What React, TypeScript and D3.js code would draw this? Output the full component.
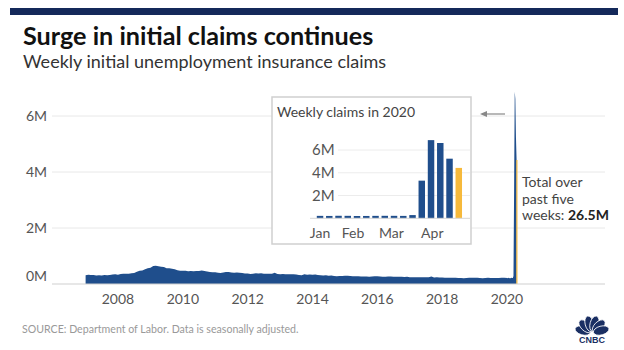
import * as d3 from 'd3';

// weekly initial claims, monthly averages in thousands, Jan 2007 .. Dec 2019
const monthlyStart = '2007-01-01';
const monthlyClaims = [
  315, 330, 318, 325, 305, 315, 305, 320, 315, 325, 340, 345,
  330, 355, 365, 365, 370, 385, 395, 440, 470, 480, 525, 560,
  580, 640, 655, 630, 620, 605, 560, 565, 545, 525, 490, 470,
  470, 475, 455, 460, 455, 465, 460, 480, 460, 450, 430, 420,
  420, 405, 395, 415, 425, 425, 410, 405, 410, 405, 395, 375,
  375, 360, 365, 380, 375, 385, 370, 370, 370, 370, 400, 360,
  350, 355, 345, 345, 350, 345, 340, 325, 310, 345, 330, 340,
  330, 335, 320, 310, 305, 310, 295, 300, 290, 280, 290, 290,
  295, 295, 285, 275, 275, 275, 270, 270, 265, 260, 270, 275,
  280, 265, 260, 255, 265, 265, 260, 260, 255, 255, 250, 260,
  245, 240, 245, 245, 240, 245, 240, 240, 265, 235, 240, 235,
  230, 225, 225, 220, 220, 220, 215, 210, 205, 210, 220, 220,
  220, 225, 215, 205, 215, 220, 210, 215, 215, 215, 220, 225,
];

const weeks2020 = [
  '2020-01-04', '2020-01-11', '2020-01-18', '2020-01-25', '2020-02-01', '2020-02-08',
  '2020-02-15', '2020-02-22', '2020-02-29', '2020-03-07', '2020-03-14', '2020-03-21',
  '2020-03-28', '2020-04-04', '2020-04-11', '2020-04-18',
];
const weeklyClaims2020 = [214, 207, 222, 217, 202, 205, 214, 219, 217, 211, 282, 3307, 6867, 6615, 5237, 4427];

const yearTicks = [2008, 2010, 2012, 2014, 2016, 2018, 2020];
const mainYTicks = [0, 2, 4, 6];
const insetYTicks = [2, 4, 6];
const monthTicks = ['2020-01-01', '2020-02-01', '2020-03-01', '2020-04-01'];
const monthNames = ['Jan', 'Feb', 'Mar', 'Apr'];
const noteLines = ['Total over', 'past five', 'weeks: '];
const noteTotal = '26.5M';

const BLUE = '#1f4e8c';
const GOLD = '#f6b93b';
const FONT = 'Lato, "Open Sans", sans-serif';

const parse = d3.timeParse('%Y-%m-%d');

function Peacock({ cx, cy }: { cx: number; cy: number }) {
  const angles = [-165, -135, -105, -75, -45, -15];
  return (
    <g>
      {angles.map((a) => {
        const r = (a * Math.PI) / 180;
        const ex = cx + Math.cos(r) * 9.5;
        const ey = cy + Math.sin(r) * 9.5;
        return <ellipse key={a} cx={ex} cy={ey} rx={8} ry={4.4} transform={`rotate(${a},${ex},${ey})`} fill="#1a2f63" stroke="#fff" strokeWidth={0.8} />;
      })}
      <text x={cx} y={cy + 9.5} textAnchor="middle" fontSize={9} fontWeight={900} fill="#1a2f63" fontFamily="Arial, sans-serif">CNBC</text>
    </g>
  );
}

export default function App() {
  const width = 624;
  const height = 350;

  const start = parse(monthlyStart) as Date;
  const series = [
    ...monthlyClaims.map((v, i) => ({ date: d3.timeMonth.offset(start, i), value: v * 1000 })),
    ...weeks2020.map((w, i) => ({ date: parse(w) as Date, value: weeklyClaims2020[i] * 1000 })),
  ];
  const last = series[series.length - 1];

  const x = d3.scaleTime().domain([new Date(2008, 0, 1), new Date(2020, 0, 1)]).range([118, 507]);
  const y = d3.scaleLinear().domain([0, 6e6]).range([284, 116]);
  const area = d3
    .area<{ date: Date; value: number }>()
    .x((d) => x(d.date))
    .y0(y(0))
    .y1((d) => y(d.value));

  // inset
  const bx = d3.scaleBand<string>().domain(weeks2020).range([315.4, 463.4]).paddingInner(0.3).paddingOuter(0.15);
  const iy = d3.scaleLinear().domain([0, 6e6]).range([218.3, 150]);
  const firstC = (bx(weeks2020[0]) ?? 0) + bx.bandwidth() / 2;
  const lastC = (bx(weeks2020[weeks2020.length - 1]) ?? 0) + bx.bandwidth() / 2;
  const tx = d3.scaleTime().domain([parse(weeks2020[0]) as Date, parse(weeks2020[weeks2020.length - 1]) as Date]).range([firstC, lastC]);

  return (
    <svg width={width} height={height} viewBox={`0 0 ${width} ${height}`} style={{ position: 'absolute', left: 0, top: 0, background: '#fff' }} fontFamily={FONT}>
      <rect x={10} y={8} width={608} height={7} fill="#14295a" />
      <text x={23} y={45} fontSize={25.2} fontWeight={700} fill="#111">Surge in initial claims continues</text>
      <text x={23} y={68} fontSize={18} fill="#333">Weekly initial unemployment insurance claims</text>

      {mainYTicks.filter((t) => t > 0).map((t) => (
        <line key={t} x1={52} x2={605} y1={y(t * 1e6)} y2={y(t * 1e6)} stroke="#e8e8e8" strokeWidth={1} />
      ))}
      {mainYTicks.map((t) => (
        <text key={t} x={47} y={y(t * 1e6) + (t === 0 ? -3 : 5)} textAnchor="end" fontSize={14} fill="#555">{t}M</text>
      ))}

      <path d={area(series) ?? ''} fill={BLUE} />
      <line x1={x(last.date) + 0.3} x2={x(last.date) + 0.3} y1={y(last.value)} y2={y(0)} stroke={GOLD} strokeWidth={1.2} />
      <line x1={52} x2={605} y1={y(0)} y2={y(0)} stroke="#cfcfcf" strokeWidth={1.2} />

      {yearTicks.map((yr) => (
        <text key={yr} x={x(new Date(yr, 0, 1))} y={304} textAnchor="middle" fontSize={14} fill="#555">{yr}</text>
      ))}

      {/* inset */}
      <rect x={272} y={97} width={199} height={147} fill="#fff" stroke="#cfcfcf" strokeWidth={1.5} />
      <text x={277} y={117} fontSize={14} fill="#444">Weekly claims in 2020</text>
      {insetYTicks.map((t) => (
        <g key={t}>
          <line x1={338} x2={470} y1={iy(t * 1e6)} y2={iy(t * 1e6)} stroke="#ececec" />
          <text x={312} y={iy(t * 1e6) + 5} fontSize={15} fill="#555">{t}M</text>
        </g>
      ))}
      {weeks2020.map((w, i) => (
        <rect
          key={w}
          x={bx(w)}
          y={iy(weeklyClaims2020[i] * 1000)}
          width={bx.bandwidth()}
          height={iy(0) - iy(weeklyClaims2020[i] * 1000)}
          fill={i === weeks2020.length - 1 ? GOLD : BLUE}
        />
      ))}
      <line x1={310} x2={470} y1={iy(0)} y2={iy(0)} stroke="#d5d5d5" />
      {monthTicks.map((m, i) => (
        <text key={m} x={Math.max(tx(parse(m) as Date) - 4, firstC)} y={237.5} textAnchor="middle" fontSize={14} fill="#555">{monthNames[i]}</text>
      ))}

      <line x1={482} x2={505} y1={114} y2={114} stroke="#888" strokeWidth={1.2} />
      <path d="M480,114 L487,111 L487,117 Z" fill="#888" />

      {noteLines.map((l, i) => (
        <text key={l} x={522} y={187 + i * 16.5} fontSize={14} fill="#444">
          {l}
          {i === noteLines.length - 1 && <tspan fontWeight={700} fill="#222">{noteTotal}</tspan>}
        </text>
      ))}

      <text x={22} y={332.5} fontSize={10.6} fill="#999">SOURCE: Department of Labor. Data is seasonally adjusted.</text>
      <Peacock cx={592} cy={333} />
    </svg>
  );
}
